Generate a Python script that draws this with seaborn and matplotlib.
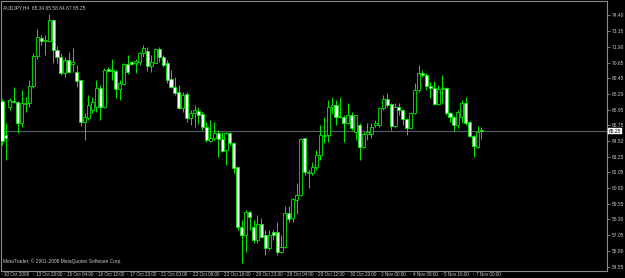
import matplotlib
matplotlib.use("Agg")
import matplotlib.pyplot as plt
import numpy as np
import seaborn as sns

# ---------------- data (AUDJPY, H4) ----------------
opens = [67.60, 64.95, 67.16, 67.63, 67.55, 65.90, 67.38, 67.47, 68.81, 71.17,
         72.59, 72.35, 72.35, 74.01, 71.64, 71.09, 69.83, 70.86, 70.54, 69.91,
         69.28, 65.97, 66.29, 66.92, 67.16, 68.65, 67.16, 70.15, 69.99, 69.99,
         68.57, 68.97, 70.54, 70.70, 70.62, 70.70, 71.41, 71.57, 70.38, 70.62,
         71.72, 71.09, 70.62, 69.36, 68.73, 68.34, 67.08, 68.18, 66.29, 66.68,
         66.84, 66.60, 65.58, 64.48, 64.71, 65.11, 64.64, 63.77, 65.11, 64.32,
         62.43, 57.71, 57.08, 58.89, 57.71, 56.68, 57.94, 57.08, 56.05, 57.31,
         57.31, 55.74, 56.13, 58.81, 58.42, 59.83, 60.23, 64.72, 61.96, 61.96,
         62.43, 63.38, 64.88, 64.95, 67.16, 67.31, 66.37, 66.37, 65.90, 66.53,
         65.19, 65.74, 64.01, 65.03, 65.03, 65.74, 65.74, 67.08, 67.79, 67.39,
         65.66, 67.16, 66.92, 66.21, 65.50, 66.68, 68.49, 69.83, 69.68, 68.81,
         68.65, 67.39, 68.57, 68.65, 66.68, 66.37, 65.74, 66.37, 67.47, 65.97,
         64.87, 64.01, 65.34]
highs = [67.80, 65.90, 67.86, 68.73, 67.63, 68.49, 67.94, 69.28, 71.41, 73.30,
         72.83, 72.83, 74.48, 74.09, 71.96, 71.41, 71.09, 71.49, 71.80, 70.46,
         69.30, 66.68, 68.10, 67.94, 69.28, 68.89, 70.23, 70.30, 70.94, 70.07,
         69.28, 70.62, 71.25, 70.78, 70.94, 71.49, 72.04, 71.88, 71.25, 71.80,
         71.88, 71.25, 70.86, 70.07, 69.52, 68.89, 68.34, 68.34, 66.92, 67.31,
         67.16, 66.76, 65.97, 66.13, 65.97, 65.35, 65.19, 65.19, 65.19, 64.40,
         62.45, 58.26, 59.05, 58.95, 58.26, 58.65, 58.42, 57.47, 57.47, 57.47,
         58.10, 57.08, 59.36, 59.36, 59.99, 61.17, 64.72, 64.75, 62.20, 62.83,
         63.77, 65.74, 66.37, 67.71, 67.94, 67.71, 67.94, 66.53, 67.47, 66.76,
         66.55, 65.90, 65.19, 65.90, 65.90, 66.13, 67.16, 68.10, 68.26, 67.47,
         67.47, 67.47, 67.00, 66.29, 66.76, 69.05, 70.46, 70.07, 69.83, 69.12,
         69.20, 68.89, 69.68, 68.73, 66.76, 66.45, 66.92, 67.71, 67.94, 66.05,
         64.95, 65.66, 65.58]
lows = [64.20, 62.98, 66.92, 67.47, 65.11, 65.58, 66.76, 67.16, 68.65, 70.94,
        72.04, 71.25, 72.27, 70.62, 70.62, 69.68, 69.52, 69.83, 69.91, 68.73,
        65.66, 64.56, 66.13, 66.68, 66.76, 66.13, 67.10, 69.91, 69.28, 67.86,
        67.71, 68.89, 69.75, 70.46, 69.83, 70.46, 71.09, 69.99, 69.91, 70.62,
        70.70, 70.30, 69.05, 68.65, 68.10, 67.00, 66.76, 65.97, 65.74, 65.58,
        65.82, 65.35, 64.40, 64.40, 64.56, 63.22, 63.61, 62.59, 64.16, 61.96,
        57.47, 54.87, 55.74, 57.47, 56.45, 56.45, 56.84, 55.50, 55.90, 56.68,
        55.50, 55.66, 56.05, 58.10, 58.10, 58.73, 60.15, 61.80, 60.78, 61.80,
        62.20, 62.98, 64.32, 64.40, 66.68, 65.74, 66.29, 64.40, 65.85, 65.35,
        64.56, 62.98, 63.93, 64.56, 64.72, 65.58, 65.58, 66.92, 67.16, 65.35,
        65.50, 66.53, 65.74, 64.95, 65.42, 66.60, 68.34, 69.52, 68.49, 67.86,
        67.31, 67.31, 67.47, 66.53, 65.97, 65.27, 65.50, 65.90, 65.74, 64.79,
        63.22, 63.93, 64.67]
closes = [64.50, 64.71, 67.71, 67.55, 65.90, 67.47, 67.47, 68.81, 71.17, 72.67,
          72.35, 72.43, 74.01, 71.64, 71.09, 69.83, 70.86, 69.91, 70.70, 69.20,
          65.97, 66.37, 67.31, 67.55, 68.65, 67.16, 70.07, 69.99, 70.07, 68.57,
          69.05, 70.54, 69.91, 70.54, 70.78, 71.41, 71.80, 70.38, 70.70, 71.72,
          71.09, 70.46, 69.28, 68.73, 68.26, 67.08, 68.10, 66.29, 66.68, 66.92,
          66.53, 65.58, 64.56, 64.71, 65.11, 64.64, 63.69, 65.11, 64.32, 62.35,
          57.71, 57.08, 58.89, 58.50, 56.68, 57.94, 56.92, 56.05, 57.08, 57.08,
          55.74, 56.13, 58.81, 58.34, 59.91, 60.23, 64.64, 62.04, 62.04, 62.43,
          63.38, 64.95, 64.98, 67.16, 67.31, 66.37, 66.45, 65.90, 66.53, 65.50,
          66.53, 64.01, 65.03, 65.19, 65.58, 65.90, 67.08, 67.79, 67.31, 65.66,
          67.16, 66.92, 66.21, 65.50, 66.68, 68.49, 69.83, 69.68, 68.81, 68.65,
          67.39, 68.57, 68.65, 66.68, 66.37, 65.74, 66.76, 67.47, 65.90, 64.87,
          64.09, 65.19, 65.25]

price_ticks = [74.40, 73.15, 71.90, 70.65, 69.45, 68.20, 66.95, 65.75, 64.50,
               63.25, 62.05, 60.80, 59.55, 58.30, 57.05, 55.80, 54.55]
time_labels = ["10 Oct 2008", "13 Oct 20:00", "15 Oct 04:00", "16 Oct 12:00",
               "17 Oct 20:00", "21 Oct 00:00", "22 Oct 08:00", "23 Oct 16:00",
               "26 Oct 23:00", "28 Oct 04:00", "29 Oct 12:00", "30 Oct 20:00",
               "3 Nov 00:00", "4 Nov 08:00", "5 Nov 16:00", "7 Nov 00:00"]
bars_per_label = 8
symbol_title = "AUDJPY,H4  65.34 65.58 64.67 65.25"
copyright_text = "MetaTrader, \u00a9 2001-2008 MetaQuotes Software Corp."
last_price = 65.25

# ---------------- style ----------------
sns.set_style("dark", {"axes.facecolor": "black", "figure.facecolor": "black"})
plt.rcParams["font.family"] = ["Liberation Sans Narrow", "DejaVu Sans Condensed",
                               "Liberation Sans", "DejaVu Sans"]

GREEN = "#00ee00"
FRAME = "#8a8a8a"
TEXT = "#c8c8c8"
FS = 3.5
FS_X = 3.3

W, H = 625, 278
fig = plt.figure(figsize=(W / 100, H / 100), dpi=100, facecolor="black")
ax = fig.add_axes([1 / W, 7 / H, 606 / W, 270 / H])
ax.set_facecolor("black")

o = np.array(opens); h = np.array(highs); l = np.array(lows); c = np.array(closes)
idx = np.arange(len(o))

# wicks
ax.vlines(idx, l, h, color=GREEN, linewidth=0.7, zorder=2)
# bodies
bottom = np.minimum(o, c)
height = np.maximum(np.abs(c - o), 0.06)
face = np.where(c < o, "white", "black")
ax.bar(idx, height, bottom=bottom, width=0.78, color=face, edgecolor=GREEN,
       linewidth=0.6, zorder=3)

# last price line
ax.axhline(last_price, color="#56606a", linewidth=0.8, zorder=1)

# axes limits
px_per_bar = 3.93
xmin = -0.25
ax.set_xlim(xmin, xmin + 606 / px_per_bar)
ax.set_ylim(54.24, 75.50)

for s in ax.spines.values():
    s.set_visible(True)
    s.set_color(FRAME)
    s.set_linewidth(0.8)

# price axis on the right
ax.yaxis.tick_right()
ax.set_yticks(price_ticks)
ax.set_yticklabels([f"{v:.2f}" for v in price_ticks])
ax.tick_params(axis="y", colors=FRAME, labelcolor=TEXT, length=2, width=0.6,
               pad=1.5, labelsize=FS, right=True, left=False)
ax.grid(False)

# time axis
ax.set_xticks([])
for i, lab in enumerate(time_labels):
    k = i * bars_per_label
    ax.annotate("", xy=(k, 0), xycoords=("data", "axes fraction"),
                xytext=(k, -0.022), textcoords=("data", "axes fraction"),
                arrowprops=dict(arrowstyle="-", color=FRAME, lw=0.6))
    ax.annotate(lab, xy=(k, 0), xycoords=("data", "axes fraction"),
                xytext=(1.5, -0.8), textcoords="offset points",
                ha="left", va="top", fontsize=FS_X, color=TEXT)

# last price box
ax.annotate(f"{last_price:.2f}", xy=(1, last_price),
            xycoords=("axes fraction", "data"), xytext=(1.3, 0),
            textcoords="offset points", ha="left", va="center",
            fontsize=FS, color="black",
            bbox=dict(boxstyle="square,pad=0.15", fc="white", ec="white", lw=0.3))

# texts
ax.text(0.004, 0.985, symbol_title, transform=ax.transAxes, ha="left", va="top",
        fontsize=FS, color=TEXT)
ax.text(0.004, 0.025, copyright_text, transform=ax.transAxes, ha="left",
        va="bottom", fontsize=FS, color=TEXT)

fig.savefig("out.png", dpi=100, facecolor="black")
